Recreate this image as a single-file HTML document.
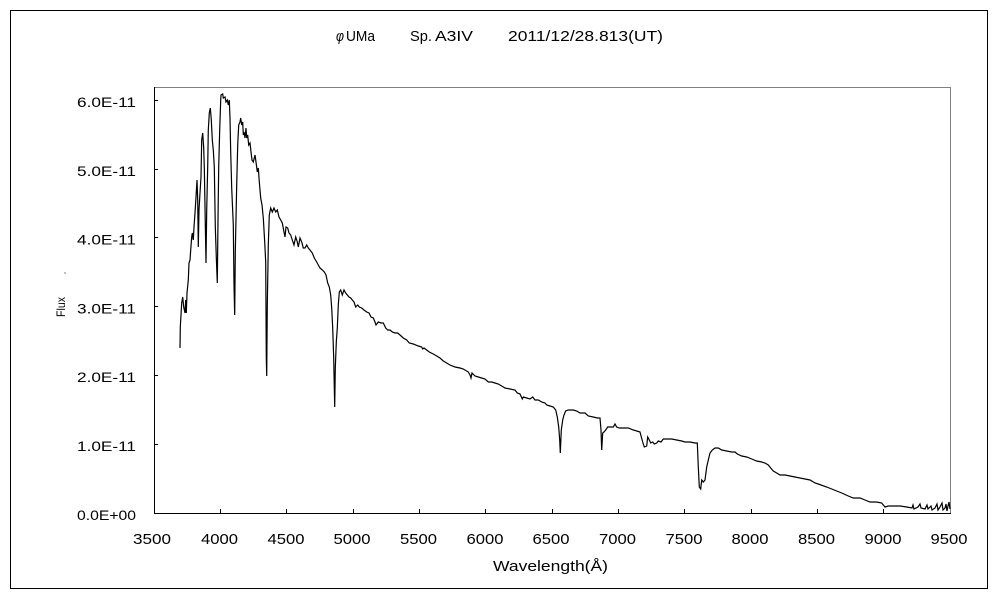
<!DOCTYPE html>
<html>
<head>
<meta charset="utf-8">
<style>
  html,body{margin:0;padding:0;background:#fff;}
  svg{display:block;}
  text{font-family:"Liberation Sans","Noto Sans CJK JP",sans-serif;fill:#000;}
</style>
</head>
<body>
<svg width="1000" height="600" viewBox="0 0 1000 600" xmlns="http://www.w3.org/2000/svg">
  <rect x="0" y="0" width="1000" height="600" fill="#fff"/>
  <!-- outer frame -->
  <rect x="10.5" y="10.5" width="977" height="578" fill="none" stroke="#000" stroke-width="1"/>

  <!-- title -->
  <text x="336" y="41" font-size="15" font-style="italic" textLength="8" lengthAdjust="spacingAndGlyphs">φ</text>
  <text x="346" y="41" font-size="15" textLength="29" lengthAdjust="spacingAndGlyphs">UMa</text>
  <text x="410" y="41" font-size="15" textLength="22" lengthAdjust="spacingAndGlyphs">Sp.</text>
  <text x="435" y="41" font-size="15" textLength="38" lengthAdjust="spacingAndGlyphs">A3IV</text>
  <text x="508" y="41" font-size="15" textLength="155" lengthAdjust="spacingAndGlyphs">2011/12/28.813(UT)</text>

  <!-- plot box -->
  <line x1="154" y1="87.5" x2="951" y2="87.5" stroke="#808080" stroke-width="1"/>
  <line x1="950.5" y1="87" x2="950.5" y2="514" stroke="#808080" stroke-width="1"/>
  <line x1="154.5" y1="87" x2="154.5" y2="514" stroke="#000" stroke-width="1"/>
  <line x1="154" y1="513.5" x2="951" y2="513.5" stroke="#000" stroke-width="1"/>

  <!-- y ticks -->
  <g stroke="#000" stroke-width="1">
    <line x1="154" y1="444.5" x2="158" y2="444.5"/>
    <line x1="154" y1="375.5" x2="158" y2="375.5"/>
    <line x1="154" y1="306.5" x2="158" y2="306.5"/>
    <line x1="154" y1="237.5" x2="158" y2="237.5"/>
    <line x1="154" y1="169.5" x2="158" y2="169.5"/>
    <line x1="154" y1="100.5" x2="158" y2="100.5"/>
  </g>
  <!-- x ticks -->
  <g stroke="#000" stroke-width="1">
    <line x1="220.5" y1="509" x2="220.5" y2="513"/>
    <line x1="286.5" y1="509" x2="286.5" y2="513"/>
    <line x1="353.5" y1="509" x2="353.5" y2="513"/>
    <line x1="419.5" y1="509" x2="419.5" y2="513"/>
    <line x1="485.5" y1="509" x2="485.5" y2="513"/>
    <line x1="552.5" y1="509" x2="552.5" y2="513"/>
    <line x1="618.5" y1="509" x2="618.5" y2="513"/>
    <line x1="684.5" y1="509" x2="684.5" y2="513"/>
    <line x1="751.5" y1="509" x2="751.5" y2="513"/>
    <line x1="817.5" y1="509" x2="817.5" y2="513"/>
    <line x1="883.5" y1="509" x2="883.5" y2="513"/>
  </g>

  <!-- y labels -->
  <g font-size="14" text-anchor="end">
    <text x="136" y="520" textLength="59" lengthAdjust="spacingAndGlyphs">0.0E+00</text>
    <text x="136" y="451" textLength="59" lengthAdjust="spacingAndGlyphs">1.0E-11</text>
    <text x="136" y="382" textLength="59" lengthAdjust="spacingAndGlyphs">2.0E-11</text>
    <text x="136" y="313.5" textLength="59" lengthAdjust="spacingAndGlyphs">3.0E-11</text>
    <text x="136" y="244.5" textLength="59" lengthAdjust="spacingAndGlyphs">4.0E-11</text>
    <text x="136" y="176" textLength="59" lengthAdjust="spacingAndGlyphs">5.0E-11</text>
    <text x="136" y="107" textLength="59" lengthAdjust="spacingAndGlyphs">6.0E-11</text>
  </g>

  <!-- x labels -->
  <g font-size="15" text-anchor="middle">
    <text x="152" y="544" textLength="38" lengthAdjust="spacingAndGlyphs">3500</text>
    <text x="219.5" y="544" textLength="37" lengthAdjust="spacingAndGlyphs">4000</text>
    <text x="286" y="544" textLength="37" lengthAdjust="spacingAndGlyphs">4500</text>
    <text x="352" y="544" textLength="37" lengthAdjust="spacingAndGlyphs">5000</text>
    <text x="418.5" y="544" textLength="37" lengthAdjust="spacingAndGlyphs">5500</text>
    <text x="485" y="544" textLength="37" lengthAdjust="spacingAndGlyphs">6000</text>
    <text x="551" y="544" textLength="37" lengthAdjust="spacingAndGlyphs">6500</text>
    <text x="617.5" y="544" textLength="37" lengthAdjust="spacingAndGlyphs">7000</text>
    <text x="684" y="544" textLength="37" lengthAdjust="spacingAndGlyphs">7500</text>
    <text x="750" y="544" textLength="37" lengthAdjust="spacingAndGlyphs">8000</text>
    <text x="816.5" y="544" textLength="37" lengthAdjust="spacingAndGlyphs">8500</text>
    <text x="883" y="544" textLength="37" lengthAdjust="spacingAndGlyphs">9000</text>
    <text x="949" y="544" textLength="37" lengthAdjust="spacingAndGlyphs">9500</text>
  </g>

  <!-- axis titles -->
  <text x="493" y="571" font-size="15" textLength="115" lengthAdjust="spacingAndGlyphs">Wavelength(Å)</text>
  <text transform="translate(65,317) rotate(-90)" font-size="12" textLength="20" lengthAdjust="spacingAndGlyphs">Flux</text>
  <rect x="64.5" y="272.5" width="1" height="1" fill="#000"/>

  <!-- spectrum -->
  <polyline fill="none" stroke="#000" stroke-width="1.2" stroke-linejoin="miter" points="
180,348 180.3,327 181.7,303 182.7,297 183.7,307 185,313 185.7,300 186.3,313 187,293 188.3,280 189,263 190,260 190.7,250 191.7,237 192.3,233 193.3,240 194,227 195,213 196,197 197,180 197.7,200 198.3,247 199,210 200,193 201,177 201.7,140 202.7,133 203.7,148 204.3,167 205,207 206,263 206.7,210 207.7,167 208.3,130 209.3,113 210.3,108 211.3,120 212.3,140 213.3,150 214.3,167 215.3,227 216.3,257 217.3,283 218,220 218.7,167 219.7,130 220.7,100 221,95 222.7,94 223.3,98 225,97 226,102 227.3,100 228.3,105 229.3,100 230,118 230.7,152 231.7,188 233.3,225 234,285 234.7,315 235.3,252 236.7,185 237.7,145 238.7,125 240,122 240.7,118 241.7,125 242.7,122 243.3,135 244,132 245,138 246,128 246.7,138 247.7,135 248.7,145 250,143 251,152 252,160 253.3,162 255,155 256,162 257.3,172 258.3,168 259.3,182 260.7,198 262,205 263.3,218 264.7,242 265.7,262 266.3,358 266.7,376
267.3,305 268.3,245 269.3,215 270.7,208 272.3,212 274,208 275.7,212 277.3,210 279,217 280.7,220 282.3,223 284,232 285,237 286,227 287.7,228 289,233 290.7,235 292.3,240 294,245 295.7,237 297.3,242 298.3,247 300,238 301.7,242 303.3,248 305,248 306.7,245 308.3,248 310,250 312.3,253 314.3,258 316.7,262 318.3,265 320,268 322.3,270 324.3,272 326,275 327.7,283 329.3,287 330.7,295 331.7,308 332.7,328 333.7,358 334.3,388 334.7,407 335.3,368 336.3,342 337.3,328 338.3,305 339.3,292 340.7,290 342.3,295 344,290 345.7,293 347.3,295 349,297 350.7,298 352.3,300 354,302 355.7,307 357.7,305 359.3,307 361.7,308 364,310 366.7,312 369,313 371,317 373.3,318 375,322 376,325 378.3,322 381,323 383.3,323 385.7,328 387.7,330 390,330 392.3,332 395,333 397.7,333 400,335
403.3,338 406.7,340 409.3,343 413.3,344 418.3,346 421.7,347 422.7,349 424,348 426.7,350 429.3,352 433.3,354 436.7,356 440,358 443.3,361 446.7,363 450,365 455,367 460,368 463.3,369 468.3,372 470,375 471,378 472,373 475,376 478.3,377 481.7,378 485,379 488.3,382 491.7,382 495,383 498.3,384 501.7,386 505,388 510,389 515,390 517.3,393 520,394 522.3,399 523.3,397 526.7,398 530,399 532.7,397 535,400 538.3,400 541.7,402 545,403 546.7,405 550,406 553.3,407 555.7,410 557.3,417 558.7,427 559.7,440 560.3,453 561.3,430 562.7,420 564,415 565.7,411 568.3,410 573.3,410 576.7,411 580,413 585,413 588.3,416 593.3,417 597.3,418 600,418 601,430 601.7,450 602.7,433 604,432 605.7,430 607.7,427 610.7,427 613.3,427 615,424 616.7,427 619.3,428
623.3,428 628.3,428 633.3,430 636.7,431 640,432 641.3,437 642.7,442 644.3,447 646.7,446 647.7,437 649.3,440 650.7,443 652.7,442 654.3,444 656.7,443 658.3,441 661,442 663.3,439 666.7,439 671.7,439 676.7,440 681.7,441 685,442 690,442 695,443 697.3,443 698.3,467 699.3,487 700.7,489 701.7,480 703.3,482 705,480 706.7,467 708.3,460 710,453 712.3,450 715,448 718.3,448 721.7,450 726.7,451 731.7,452 735,452 737.3,454 741.7,456 746.7,457 751.7,459 756.7,461 761.7,462 765,463 768.3,465 770.7,468 773.3,471 776.7,473 780,475 785,475 790,476 795,477 800,478 805,479 810,480 815,483 818.3,484
826.7,487 831.7,489 836.7,491 841.7,493 848.3,496 853.3,498 860,498 865,500 870,502 876.7,502 881.7,503 885,507 888.3,506 893.3,506 900,506 906.7,507 912,508 913,505 914,509 918,507 920,504 921,508 925,509 927,505 928,509 931,506 932,510 935,508 937,504 938,510 940,507 942,503 943,510 945,508 946,504 947,511 948,506 949,502 950,509
"/>
</svg>
</body>
</html>
